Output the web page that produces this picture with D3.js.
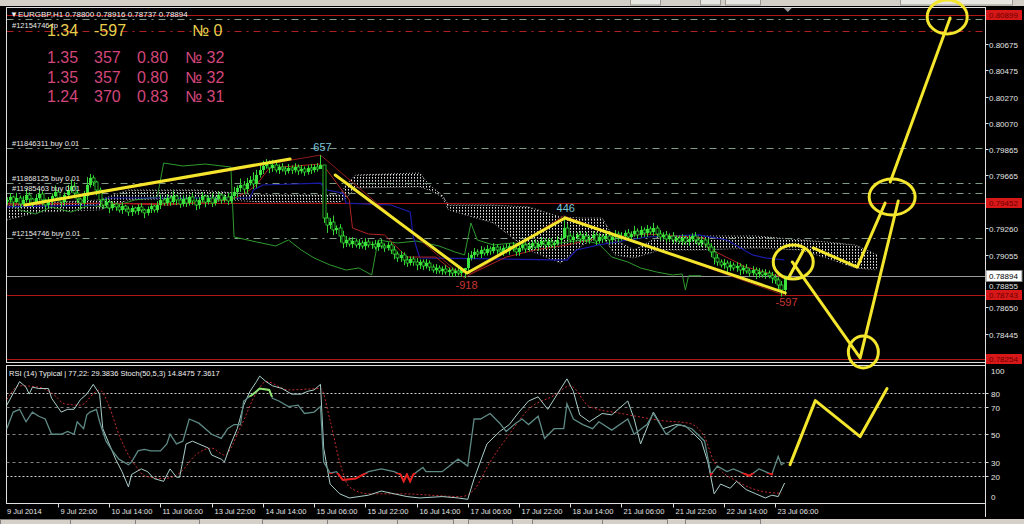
<!DOCTYPE html>
<html><head><meta charset="utf-8">
<script src="https://cdn.jsdelivr.net/npm/d3@7"></script>
<style>html,body{margin:0;padding:0;background:#000;overflow:hidden}svg{display:block}text{font-family:"Liberation Sans",Arial,sans-serif}</style>
</head><body><svg id="c" width="1024" height="524"></svg>
<script>
// ---------- DATA ----------
const symbolTitle = "\u25BCEURGBP,H1  0.78800 0.78916 0.78737 0.78894";
const firstOpen = 0.79470;
const closes = [
0.79477,0.79500,0.79461,0.79492,0.79446,0.79477,0.79515,0.79484,0.79453,0.79492,
0.79523,0.79477,0.79438,0.79469,0.79507,0.79538,0.79492,0.79461,0.79515,0.79553,
0.79584,0.79530,0.79484,0.79453,0.79507,0.79592,0.79646,0.79615,0.79553,0.79477,
0.79438,0.79461,0.79415,0.79446,0.79423,0.79400,0.79430,0.79407,0.79384,0.79415,
0.79392,0.79423,0.79400,0.79377,0.79407,0.79430,0.79400,0.79438,0.79477,0.79453,
0.79492,0.79461,0.79507,0.79477,0.79446,0.79484,0.79453,0.79500,0.79469,0.79438,
0.79477,0.79507,0.79461,0.79492,0.79453,0.79484,0.79515,0.79477,0.79500,0.79469,
0.79507,0.79538,0.79569,0.79592,0.79561,0.79607,0.79630,0.79600,0.79669,0.79707,
0.79738,0.79761,0.79723,0.79746,0.79707,0.79730,0.79715,0.79700,0.79723,0.79707,
0.79730,0.79700,0.79715,0.79692,0.79723,0.79707,0.79730,0.79715,0.79746,0.79338,
0.79284,0.79307,0.79246,0.79261,0.79200,0.79146,0.79169,0.79138,0.79161,0.79131,
0.79146,0.79123,0.79154,0.79131,0.79138,0.79115,0.79146,0.79123,0.79108,0.79131,
0.79092,0.79061,0.79031,0.79054,0.79015,0.78992,0.79023,0.79000,0.78977,0.79000,
0.78969,0.78992,0.78961,0.78938,0.78954,0.78931,0.78946,0.78923,0.78938,0.78915,
0.78931,0.78915,0.78938,0.78954,0.79031,0.79054,0.79077,0.79061,0.79092,0.79069,
0.79100,0.79085,0.79115,0.79092,0.79077,0.79108,0.79085,0.79123,0.79100,0.79077,
0.79108,0.79131,0.79100,0.79123,0.79146,0.79115,0.79138,0.79161,0.79131,0.79154,
0.79131,0.79146,0.79169,0.79184,0.79261,0.79200,0.79169,0.79192,0.79208,0.79177,
0.79200,0.79169,0.79184,0.79208,0.79161,0.79192,0.79177,0.79200,0.79169,0.79192,
0.79215,0.79184,0.79200,0.79223,0.79192,0.79215,0.79238,0.79208,0.79246,0.79223,
0.79254,0.79231,0.79261,0.79215,0.79192,0.79208,0.79177,0.79200,0.79169,0.79184,
0.79161,0.79184,0.79154,0.79177,0.79200,0.79169,0.79146,0.79169,0.79138,0.79115,
0.79077,0.79031,0.79000,0.78977,0.78992,0.78961,0.78977,0.78954,0.78969,0.78938,
0.78954,0.78931,0.78915,0.78938,0.78908,0.78923,0.78900,0.78915,0.78894,0.78877,
0.78862,0.78823,0.78785,0.78894];
// upper / lower shadow of each bar, in pips
const upperShadowPips = [
2,3,1,4,2,3,5,2,1,3, 4,2,1,3,2,5,3,1,2,4, 5,3,2,1,4,6,3,2,1,2, 1,3,2,2,1,2,3,1,2,2,
1,2,3,1,2,2,1,3,4,2, 3,2,4,1,2,3,2,1,3,2, 2,3,1,2,4,2,3,1,2,3, 3,4,2,5,3,4,3,6,4,5,
4,3,2,4,3,2,3,2,3,2, 3,2,3,2,2,3,2,3,9,3, 4,3,5,2,3,4,3,2,3,2, 3,2,3,2,2,3,2,3,2,2,
2,3,2,3,2,3,2,2,3,2, 2,3,2,2,3,2,2,3,2,2, 2,3,2,3,4,3,3,2,3,2, 3,2,3,2,3,2,3,2,3,2,
2,3,2,3,2,3,2,3,2,3, 3,2,3,2,5,3,2,3,2,3, 2,3,2,3,2,3,2,2,3,2, 3,2,3,2,3,2,4,2,3,2,
3,2,4,2,3,2,3,2,3,2, 2,3,2,3,2,3,2,3,2,4, 3,4,3,2,3,2,3,2,3,2, 2,3,2,3,2,3,2,3,2,3,
3,2,3,4];
const lowerShadowPips = [
3,2,4,1,3,2,2,4,3,1, 2,4,3,2,3,1,2,4,3,2, 2,4,3,5,2,3,2,3,4,5, 3,2,4,2,3,2,3,2,3,3,
2,3,2,4,2,3,2,2,3,2, 2,3,2,4,3,2,3,2,3,4, 3,2,4,2,3,2,2,3,2,3, 2,3,4,3,4,3,2,4,3,2,
3,2,4,3,2,3,2,3,2,3, 2,3,2,3,2,3,2,2,3,4, 6,3,4,3,5,4,3,2,3,2, 3,2,3,2,3,2,3,2,3,2,
3,4,3,3,4,3,2,3,4,3, 3,2,3,2,3,2,3,2,3,3, 3,2,3,2,3,2,3,2,3,2, 2,3,2,3,2,3,2,3,2,3,
3,2,3,2,3,2,3,2,3,2, 2,3,2,3,2,3,2,3,2,3, 3,2,3,2,3,2,3,2,3,2, 2,3,2,3,2,3,2,3,2,3,
3,2,3,2,3,2,3,2,3,2, 2,3,2,3,2,3,2,3,2,3, 4,5,3,2,3,4,3,2,3,4, 3,2,3,2,4,3,2,3,2,4,
3,4,5,3];
// [bar, high, low] for the long spikes
const spikes = [[98,0.79822,0.79715],[99,0.79746,0.79300],[143,0.78954,0.78877],[174,0.79354,0.79184],[243,0.78894,0.78743]];
// Ichimoku
const kumo = [[0,0.79438,0.79323],[10,0.79453,0.79384],[29,0.79477,0.79400],[38,0.79553,0.79477],[60,0.79553,0.79492],[79,0.79515,0.79461],[104,0.79515,0.79461],[106,0.79592,0.79492],[109,0.79669,0.79569],[129,0.79684,0.79577],[132,0.79592,0.79553],[136,0.79515,0.79500],[138,0.79438,0.79400],[152,0.79438,0.79300],[163,0.79423,0.79092],[173,0.79346,0.78992],[180,0.79338,0.79131],[186,0.79338,0.79208],[190,0.79169,0.79054],[196,0.79092,0.79031],[204,0.79200,0.79092],[217,0.79200,0.79092],[234,0.79200,0.79108],[248,0.79169,0.79092],[256,0.79154,0.79031],[265,0.79131,0.78954],[272,0.79054,0.78938]];
const kijun = [[0,0.79423],[28,0.79438],[31,0.79492],[76,0.79492],[77,0.79553],[80,0.79592],[98,0.79607],[100,0.79553],[105,0.79530],[106,0.79453],[120,0.79438],[126,0.79384],[127,0.79192],[129,0.79031],[175,0.79015],[178,0.79092],[185,0.79131],[200,0.79192],[216,0.79208],[225,0.79169],[233,0.79054],[237,0.79031],[243,0.79015]];
const tenkan = [[0,0.79438],[30,0.79453],[50,0.79438],[70,0.79477],[75,0.79538],[78,0.79592],[82,0.79723],[98,0.79753],[100,0.79707],[107,0.79477],[108,0.79261],[113,0.79215],[118,0.79208],[125,0.79038],[134,0.79038],[139,0.78938],[145,0.78908],[156,0.79038],[165,0.79092],[175,0.79131],[185,0.79184],[200,0.79215],[218,0.79184],[219,0.79108],[231,0.78961],[240,0.78900],[243,0.78877]];
const chikou = [[0,0.79477],[4,0.79400],[9,0.79369],[14,0.79423],[20,0.79384],[26,0.79438],[32,0.79415],[40,0.79477],[47,0.79500],[49,0.79761],[55,0.79738],[62,0.79753],[70,0.79730],[71,0.79192],[78,0.79154],[84,0.79123],[88,0.79169],[92,0.79092],[96,0.79031],[101,0.78977],[106,0.78938],[110,0.78954],[114,0.78900],[116,0.79169],[122,0.79146],[128,0.79161],[135,0.79123],[140,0.79077],[143,0.79054],[145,0.79300],[147,0.79169],[152,0.79131],[158,0.79146],[165,0.79131],[173,0.79146],[180,0.79169],[185,0.79138],[189,0.79038],[194,0.79000],[198,0.78954],[203,0.78923],[208,0.78900],[211,0.78908],[212,0.78785],[213,0.78894],[217,0.78894]];
const zigzag = [[7,0.79438],[98,0.79822],[143,0.78877],[174,0.79354],[243,0.78743]];
const zigzagLabels = [{bar:98,price:0.79822,text:"657",up:true},{bar:143,price:0.78877,text:"-918",up:false},{bar:174,price:0.79354,text:"446",up:true},{bar:243,price:0.78743,text:"-597",up:false}];
// horizontal objects
const redLines = [0.80899,0.79452,0.78743,0.78254];
const orderLines = [{price:0.80868,label:""},{price:0.79876,label:"#11846311 buy 0.01"},{price:0.79607,label:"#11868125 buy 0.01"},{price:0.79530,label:"#11985463 buy 0.01"},{price:0.79184,label:"#12154746 buy 0.01"}];
const tpLine = {price:0.80776,label:"#12154746 tp"};
const bidPrice = 0.78894;
const priceTicks = [0.80675,0.80475,0.80270,0.80070,0.79865,0.79665,0.79460,0.79260,0.79055,0.78855,0.78650,0.78445];
const timeLabels = ["9 Jul 2014","9 Jul 22:00","10 Jul 14:00","11 Jul 06:00","13 Jul 22:00","14 Jul 14:00","15 Jul 06:00","15 Jul 22:00","16 Jul 14:00","17 Jul 06:00","17 Jul 22:00","18 Jul 14:00","21 Jul 06:00","21 Jul 22:00","22 Jul 14:00","23 Jul 06:00"];
// info text
const statYellow = ["1.34","-597","\u2116 0"];
const statRows = [["1.35","357","0.80","\u2116 32"],["1.35","357","0.80","\u2116 32"],["1.24","370","0.83","\u2116 31"]];
// RSI panel
const rsiTitle = "RSI (14) Typical | 77,22: 29.3836  Stoch(50,5,3) 14.8475 7.3617";
const rsiTicks = [100,80,70,50,30,20,0];
const rsiLevelsMajor = [80,20];
const rsiLevelsMinor = [70,50,30];
const rsiOB = 77, rsiOS = 22;
const rsi = [[0,54],[2,66],[4,68],[6,59],[8,66],[10,63],[12,61],[14,50],[17,50],[19,52],[21,50],[22,59],[24,54],[25,64],[26,66],[28,68],[29,59],[31,45],[33,38],[35,32],[38,28],[39,30],[41,38],[43,39],[45,38],[48,38],[50,43],[51,50],[53,43],[55,45],[57,61],[60,58],[64,50],[67,47],[69,54],[71,57],[73,57],[74,74],[77,79],[79,83],[82,82],[83,76],[85,74],[88,70],[91,71],[93,65],[96,66],[98,70],[99,30],[101,22],[103,23],[105,17],[109,18],[113,23],[117,25],[121,23],[123,21],[124,16],[125,21],[126,16],[127,21],[130,26],[131,23],[136,23],[141,32],[144,27],[146,61],[148,61],[151,65],[154,58],[156,52],[159,58],[161,61],[163,57],[166,63],[168,47],[171,54],[174,54],[175,72],[177,61],[180,57],[183,54],[185,59],[189,53],[194,61],[196,50],[200,57],[202,65],[206,50],[210,57],[214,54],[218,45],[220,21],[222,27],[225,23],[227,25],[232,20],[235,25],[239,21],[241,34],[242,28],[243,29.4]];
const stochMain = [[0,71],[4,88],[6,84],[7,79],[8,84],[10,83],[13,83],[14,76],[17,66],[19,68],[21,68],[23,75],[25,79],[27,86],[29,79],[30,54],[32,43],[34,32],[36,23],[38,12],[39,21],[42,25],[44,23],[46,18],[49,16],[51,25],[53,19],[54,19],[56,43],[58,45],[60,43],[63,40],[64,35],[67,32],[68,30],[70,43],[72,54],[74,71],[76,81],[78,88],[79,92],[81,88],[83,85],[86,83],[89,79],[92,79],[94,81],[96,82],[98,86],[99,40],[101,14],[104,7],[107,4],[113,6],[117,9],[121,7],[125,5],[129,4],[136,5],[141,4],[144,3],[146,18],[150,43],[154,52],[157,57],[160,66],[163,74],[166,77],[169,68],[172,79],[175,90],[177,81],[179,64],[182,59],[186,65],[189,64],[194,74],[196,61],[198,43],[202,66],[205,54],[209,57],[212,56],[217,45],[219,30],[221,7],[223,14],[226,11],[228,16],[231,10],[234,7],[237,4],[239,6],[241,5],[243,14.8]];
const stochSignal = [[0,75],[4,85],[10,84],[15,78],[18,72],[23,71],[28,81],[29,82],[32,70],[35,50],[38,35],[41,25],[43,20],[49,18],[54,22],[59,35],[64,40],[68,35],[73,55],[78,80],[81,88],[88,82],[98,83],[101,60],[104,30],[107,12],[113,7],[123,7],[142,5],[146,10],[151,30],[157,50],[163,68],[171,78],[176,85],[182,70],[192,65],[199,62],[204,60],[213,58],[218,48],[221,30],[229,15],[238,8],[242,7.4]];
// hand-drawn annotations, in [bar, price] / [bar, rsi]
const annoLines = [
 [[5.7,0.79438],[88.5,0.79792]],
 [[102.6,0.79669],[143.8,0.78915],[174.4,0.79338],[243.2,0.78762]],
 [[244.4,0.78885],[249.1,0.79100]],
 [[251.9,0.79108],[265.7,0.78961],[274.4,0.79453]],
 [[245.4,0.79000],[266.6,0.78262],[278.5,0.79469]],
 [[276.0,0.79615],[294.7,0.80876]]];
const annoCircles = [[245.7,0.79000,20,17],[276.6,0.79500,23,18],[267.6,0.78308,15,16],[293.8,0.80884,20,17]];
const annoRsi = [[244.7,28.1],[252.6,74.3],[266.6,48.3],[275,83.0]];

// ---------- LAYOUT ----------
const W=1024,H=524, L=6.5, R=985.5, mainTop=7.5, mainBot=362.5, rsiTop=365.5, rsiBot=503.5;
const PIP=0.0001;
const svg=d3.select('#c');
const x=d3.scaleLinear().domain([0,240]).range([6.8,775]);
const y=d3.scaleLinear().domain([0.78254,0.80899]).range([359,15]);
const yr=d3.scaleLinear().domain([0,100]).range([503.5,365]);
const YEL="#f3e62c";

svg.append('rect').attr('width',W).attr('height',H).attr('fill','#000');
// window chrome
svg.append('rect').attr('x',0).attr('y',0).attr('width',W).attr('height',6).attr('fill','#d4d0c8');
[[630,660],[700,720],[725,760],[900,1012]].forEach(t=>svg.append('rect').attr('x',t[0]+.5).attr('y',-1).attr('width',t[1]-t[0]).attr('height',6).attr('fill','#e8e6e0').attr('stroke','#9a9890'));
svg.append('rect').attr('x',0).attr('y',519).attr('width',W).attr('height',5).attr('fill','#d4d0c8');
[[0,70],[70,135],[135,199],[262,327],[327,397],[397,453],[468,512],[532,602],[602,667],[685,760]].forEach(t=>svg.append('rect').attr('x',t[0]+.5).attr('y',519.5).attr('width',t[1]-t[0]).attr('height',6).attr('fill','#d4d0c8').attr('stroke','#808080'));

const defs=svg.append('defs');
defs.append('clipPath').attr('id','mc').append('rect').attr('x',L).attr('y',mainTop).attr('width',R-L).attr('height',mainBot-mainTop);
defs.append('clipPath').attr('id','rc').append('rect').attr('x',L).attr('y',rsiTop).attr('width',R-L).attr('height',rsiBot-rsiTop);
defs.append('clipPath').attr('id','rcLow').append('rect').attr('x',L).attr('y',yr(rsiOS)).attr('width',R-L).attr('height',rsiBot-yr(rsiOS));
defs.append('clipPath').attr('id','rcHigh').append('rect').attr('x',L).attr('y',rsiTop).attr('width',R-L).attr('height',yr(rsiOB)-rsiTop);
const pat=defs.append('pattern').attr('id','dots').attr('patternUnits','userSpaceOnUse').attr('width',3).attr('height',3);
pat.append('rect').attr('width',1).attr('height',1.6).attr('fill','#e4e4e4');

const main=svg.append('g').attr('clip-path','url(#mc)');
const line=d3.line().x(d=>x(d[0])).y(d=>y(d[1]));

// cloud
main.append('path').datum(kumo).attr('d',d3.area().x(d=>x(d[0])).y0(d=>y(d[2])).y1(d=>y(d[1]))).attr('fill','url(#dots)');
main.append('path').datum(kumo.map(d=>[d[0],d[1]])).attr('d',line).attr('fill','none').attr('stroke','#bbb').attr('stroke-width',1).attr('stroke-dasharray','1,2');
main.append('path').datum(kumo.map(d=>[d[0],d[2]])).attr('d',line).attr('fill','none').attr('stroke','#999').attr('stroke-width',1).attr('stroke-dasharray','1,2');

// horizontal lines
redLines.forEach(p=>main.append('line').attr('x1',L).attr('x2',R).attr('y1',Math.round(y(p))+.5).attr('y2',Math.round(y(p))+.5).attr('stroke','#b01818').attr('stroke-width',1));
orderLines.forEach(o=>{
  const yy=Math.round(y(o.price))+.5;
  main.append('line').attr('x1',L).attr('x2',R).attr('y1',yy).attr('y2',yy).attr('stroke','#7f9a86').attr('stroke-dasharray','7,5,2,5');
});
{const yy=Math.round(y(tpLine.price))+.5;
 main.append('line').attr('x1',L).attr('x2',R).attr('y1',yy).attr('y2',yy).attr('stroke','#b02020').attr('stroke-dasharray','7,5,2,5');}
{const yy=Math.round(y(bidPrice))+.5;
 main.append('line').attr('x1',L).attr('x2',R).attr('y1',yy).attr('y2',yy).attr('stroke','#9a9a9a');}

// ichimoku lines
main.append('path').datum(chikou).attr('d',line).attr('fill','none').attr('stroke','#2f9a2f').attr('stroke-width',1);
main.append('path').datum(kijun).attr('d',line).attr('fill','none').attr('stroke','#1a1aa8').attr('stroke-width',1.2);
main.append('path').datum(tenkan).attr('d',line).attr('fill','none').attr('stroke','#b02222').attr('stroke-width',1);
main.append('path').datum(zigzag).attr('d',line).attr('fill','none').attr('stroke','#8e1a1a').attr('stroke-width',1);

// candles
const spikeMap=new Map(spikes.map(s=>[s[0],s]));
closes.forEach((c,i)=>{
  const o=i?closes[i-1]:firstOpen;
  const hi=spikeMap.has(i)?spikeMap.get(i)[1]:Math.max(o,c)+upperShadowPips[i]*PIP;
  const lo=spikeMap.has(i)?spikeMap.get(i)[2]:Math.min(o,c)-lowerShadowPips[i]*PIP;
  const xc=Math.round(x(i))+.5;
  main.append('line').attr('x1',xc).attr('x2',xc).attr('y1',y(hi)).attr('y2',y(lo)).attr('stroke','#33d633').attr('stroke-width',1);
  const top=y(Math.max(o,c)), bot=y(Math.min(o,c));
  main.append('rect').attr('x',xc-1.5).attr('y',top).attr('width',3).attr('height',Math.max(1,bot-top))
    .attr('fill',c>=o?'#3de43d':'#000').attr('stroke',c>=o?'none':'#33d633').attr('stroke-width',c>=o?0:0.8);
});

// zigzag labels
zigzagLabels.forEach(z=>{
  main.append('text').attr('x',x(z.bar)+2).attr('y',y(z.price)+(z.up?-4:11)).attr('text-anchor','middle')
   .attr('font-size',11).attr('fill',z.up?'#7cc6dc':'#c83434').text(z.text);
});

// order labels
orderLines.filter(o=>o.label).forEach(o=>svg.append('text').attr('x',12).attr('y',Math.round(y(o.price))-2).attr('font-size',7.5).attr('fill','#e8e8e8').text(o.label));
svg.append('text').attr('x',12).attr('y',Math.round(y(tpLine.price))-3).attr('font-size',7.5).attr('fill','#e8e8e8').text(tpLine.label);
svg.append('text').attr('x',10).attr('y',17).attr('font-size',8).attr('fill','#f0f0f0').text(symbolTitle);

// stats text
const colX=[47,94,137,185];
svg.append('text').attr('x',colX[0]).attr('y',35.5).attr('font-size',16).attr('fill','#e7cf4c').text(statYellow[0]);
svg.append('text').attr('x',colX[1]).attr('y',35.5).attr('font-size',16).attr('fill','#e7cf4c').text(statYellow[1]);
svg.append('text').attr('x',192).attr('y',35.5).attr('font-size',16).attr('fill','#e7cf4c').text(statYellow[2]);
const rowY=[63,83,102];
statRows.forEach((r,ri)=>r.forEach((t,ci)=>svg.append('text').attr('x',colX[ci]).attr('y',rowY[ri]).attr('font-size',16).attr('fill','#d2467a').text(t)));

// frames
svg.append('rect').attr('x',L).attr('y',mainTop).attr('width',R-L).attr('height',mainBot-mainTop).attr('fill','none').attr('stroke','#e0e0e0');
svg.append('rect').attr('x',L).attr('y',rsiTop).attr('width',R-L).attr('height',rsiBot-rsiTop).attr('fill','none').attr('stroke','#e0e0e0');
svg.append('line').attr('x1',R).attr('x2',R).attr('y1',mainTop).attr('y2',517).attr('stroke','#e0e0e0');
// shift marker
svg.append('path').attr('d',`M${x(244)-4},8 L${x(244)+4},8 L${x(244)},12 Z`).attr('fill','#9a9a9a');

// price axis
const bidY=Math.round(y(bidPrice));
priceTicks.forEach(p=>{
  const yy=Math.round(y(p))+.5;
  svg.append('line').attr('x1',R).attr('x2',R+3).attr('y1',yy).attr('y2',yy).attr('stroke','#ddd');
  const ty=Math.abs(yy-bidY)<10?bidY+13:yy+3;
  svg.append('text').attr('x',989).attr('y',ty).attr('font-size',8).attr('fill','#e4e4e4').text(p.toFixed(5));
});
redLines.forEach(p=>{
  const yy=Math.round(y(p));
  svg.append('rect').attr('x',986).attr('y',yy-5).attr('width',36).attr('height',10).attr('fill','#d81818');
  svg.append('text').attr('x',989).attr('y',yy+3).attr('font-size',8).attr('fill','#6a0000').text(p.toFixed(5));
});
svg.append('rect').attr('x',986).attr('y',bidY-5.5).attr('width',36).attr('height',11).attr('fill','#fff').attr('stroke','#888');
svg.append('text').attr('x',989).attr('y',bidY+3).attr('font-size',8).attr('fill','#000').text(bidPrice.toFixed(5));

// RSI panel
const rp=svg.append('g').attr('clip-path','url(#rc)');
rsiLevelsMinor.forEach(v=>rp.append('line').attr('x1',L).attr('x2',R).attr('y1',Math.round(yr(v))+.5).attr('y2',Math.round(yr(v))+.5).attr('stroke','#808080').attr('stroke-dasharray','3,3'));
rsiLevelsMajor.forEach(v=>rp.append('line').attr('x1',L).attr('x2',R).attr('y1',Math.round(yr(v))+.5).attr('y2',Math.round(yr(v))+.5).attr('stroke','#cfcfcf').attr('stroke-dasharray','2,2'));
const rl=d3.line().x(d=>x(d[0])).y(d=>yr(d[1]));
rp.append('path').datum(stochSignal).attr('d',d3.line().x(d=>x(d[0])).y(d=>yr(d[1])).curve(d3.curveMonotoneX)).attr('fill','none').attr('stroke','#c42b2b').attr('stroke-dasharray','2,2');
rp.append('path').datum(stochMain).attr('d',rl).attr('fill','none').attr('stroke','#a9cfca').attr('stroke-width',1);
rp.append('path').datum(rsi).attr('d',rl).attr('fill','none').attr('stroke','#5e8a86').attr('stroke-width',1.3);
svg.append('g').attr('clip-path','url(#rcLow)').append('path').datum(rsi).attr('d',rl).attr('fill','none').attr('stroke','#e81e1e').attr('stroke-width',2);
svg.append('g').attr('clip-path','url(#rcHigh)').append('path').datum(rsi).attr('d',rl).attr('fill','none').attr('stroke','#8fe36f').attr('stroke-width',2);
svg.append('text').attr('x',9).attr('y',376).attr('font-size',7.5).attr('fill','#f0f0f0').text(rsiTitle);
rsiTicks.forEach(v=>{
  const yy=Math.round(yr(v))+.5;
  if(v>0&&v<100) svg.append('line').attr('x1',R).attr('x2',R+3).attr('y1',yy).attr('y2',yy).attr('stroke','#ddd');
  const ty=Math.min(Math.max(yy+3,374),500);
  svg.append('text').attr('x',991).attr('y',ty).attr('font-size',8).attr('fill','#e4e4e4').text(v);
});

// time axis
timeLabels.forEach((t,k)=>{
  const xx=Math.round(x(k*16))+.5;
  if(k>0) svg.append('line').attr('x1',xx).attr('x2',xx).attr('y1',rsiBot).attr('y2',rsiBot+4).attr('stroke','#ddd');
  svg.append('text').attr('x',k===0?7:xx+2).attr('y',514).attr('font-size',7.5).attr('fill','#e4e4e4').text(t);
});

// yellow annotations
annoLines.forEach(a=>svg.append('path').datum(a).attr('d',line).attr('fill','none').attr('stroke',YEL).attr('stroke-width',3).attr('stroke-linecap','round').attr('stroke-linejoin','round'));
annoCircles.forEach(c=>svg.append('ellipse').attr('cx',x(c[0])).attr('cy',y(c[1])).attr('rx',c[2]).attr('ry',c[3]).attr('fill','none').attr('stroke',YEL).attr('stroke-width',3));
svg.append('path').datum(annoRsi).attr('d',rl).attr('fill','none').attr('stroke',YEL).attr('stroke-width',3).attr('stroke-linecap','round').attr('stroke-linejoin','round');
</script></body></html>
